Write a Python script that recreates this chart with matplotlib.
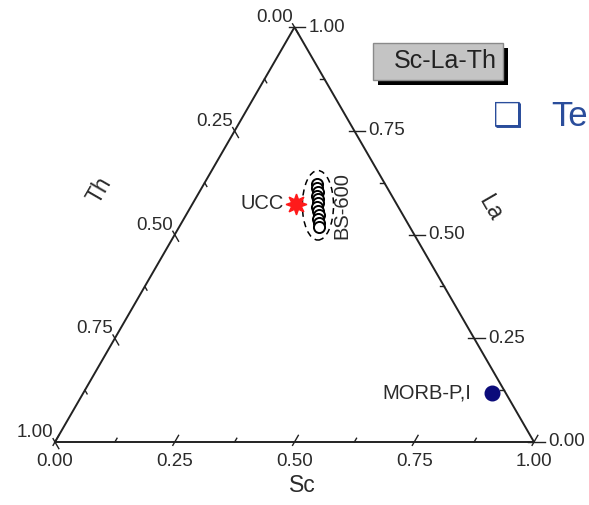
import numpy as np
from matplotlib import pyplot as plt
from matplotlib.patches import Ellipse, Rectangle

plt.rcParams['font.family'] = ['Liberation Sans', 'DejaVu Sans']

# ternary data: fractions of Sc and La (Th = 1 - Sc - La)
bs600_sc = [0.236, 0.241, 0.248, 0.250, 0.256, 0.261, 0.264, 0.271, 0.278, 0.280, 0.287, 0.292]
bs600_la = [0.622, 0.612, 0.603, 0.593, 0.586, 0.576, 0.567, 0.557, 0.547, 0.538, 0.528, 0.518]
ucc_sc, ucc_la = 0.216, 0.574
morb_sc, morb_la = 0.853, 0.118

tick_vals = np.arange(0, 1.0001, 0.125)
tick_labels = ['0.00', '0.25', '0.50', '0.75', '1.00']

H = np.sqrt(3) / 2


def tern(sc, la):
    sc = np.asarray(sc, dtype=float)
    la = np.asarray(la, dtype=float)
    return sc + la / 2, la * H


fig = plt.figure(figsize=(5.89, 5.05), dpi=100)
ax = fig.add_axes([0, 0, 1, 1])
ax.set_xlim(-55 / 479, (589 - 55) / 479)
ax.set_ylim(-(505 - 442) / 479, 442 / 479)
ax.axis('off')

lc = '#222222'
tc = '#2b2b2b'
fs_tick = 13.5
# triangle frame
ax.plot([0, 1, 0.5, 0], [0, 0, H, 0], color=lc, lw=1.4, solid_joinstyle='miter')

# ticks: bottom (Sc), left (Th), right (La)
d_bot = np.array([0.5, H])
d_left = np.array([0.5, -H])
d_right = np.array([-1.0, 0.0])
for i, v in enumerate(tick_vals):
    major = i % 2 == 0
    a, b = (-0.008, 0.016) if major else (0.0, 0.009)
    # bottom
    p = np.array([v, 0.0])
    ax.plot(*zip(p + a * d_bot, p + b * d_bot), color=lc, lw=1.0)
    # left (Th = v)
    p = np.array(tern(0, 1 - v))
    ax.plot(*zip(p + a * d_left, p + b * d_left), color=lc, lw=1.0)
    # right (La = v)
    p = np.array(tern(1 - v, v))
    ar, br = (-0.022, 0.012) if major else (0.0, 0.009)
    ax.plot(*zip(p + ar * d_right, p + br * d_right), color=lc, lw=1.0)
    if major:
        lab = tick_labels[i // 2]
        ax.text(v, -0.022, lab, ha='center', va='top', fontsize=fs_tick, color=tc)
        px, py = tern(0, 1 - v)
        ax.text(px - 0.004, py + 0.002, lab, ha='right', va='bottom', fontsize=fs_tick, color=tc)
        px, py = tern(1 - v, v)
        ax.text(px + 0.03, py, lab, ha='left', va='center', fontsize=fs_tick, color=tc)

# axis titles
ax.text(0.516, -0.09, 'Sc', ha='center', va='center', fontsize=16.5, color=tc)
ax.text(0.094, 0.526, 'Th', ha='center', va='center', fontsize=16.5, color=tc, rotation=60)
ax.text(0.908, 0.489, 'La', ha='center', va='center', fontsize=16.5, color=tc, rotation=-60)

# BS-600 cluster
bx, by = tern(bs600_sc, bs600_la)
ax.plot(bx, by, 'o', ms=8, mfc='white', mec='black', mew=1.4, ls='none', zorder=3)
cx, cy = bx.mean(), by.mean()
ell = Ellipse((cx, cy), (bx.max() - bx.min()) + 0.06, (by.max() - by.min()) + 0.055,
              fill=False, ls=(0, (4, 3)), ec='black', lw=1.1, zorder=2)
ax.add_patch(ell)
ax.text(cx + 0.05, cy, 'BS-600', rotation=90, ha='center', va='center', fontsize=14.5, color=tc)

# UCC
ux, uy = tern(ucc_sc, ucc_la)
ax.plot(ux, uy, marker=(8, 1, 0), ms=15, color='#ff1a1a', mec='#ff1a1a', ls='none', zorder=4)
ax.text(ux - 0.026, uy, 'UCC', ha='right', va='center', fontsize=14.5, color=tc)

# MORB
mx, my = tern(morb_sc, morb_la)
ax.plot(mx, my, 'o', ms=10.5, color='#0b0b7a', ls='none', zorder=4)
ax.text(mx - 0.042, my, 'MORB-P,I', ha='right', va='center', fontsize=14.5, color=tc)

# title box with shadow
fig.add_artist(Rectangle((378 / 589, 1 - 85 / 505), 130 / 589, 37 / 505,
                         transform=fig.transFigure, fc='black', ec='none'))
fig.add_artist(Rectangle((373 / 589, 1 - 80 / 505), 130 / 589, 37 / 505,
                         transform=fig.transFigure, fc='#c4c4c4', ec='#8a8a8a', lw=1))
fig.text(445 / 589, 1 - 61 / 505, 'Sc-La-Th', ha='center', va='center', fontsize=18, color='#222222')

# slide bullet fragment
blue = '#2a4d9b'
fig.text(508 / 589, 1 - 117 / 505, '\u2751', ha='center', va='center', fontsize=24, color=blue,
         family=['DejaVu Sans'])
fig.text(551 / 589, 1 - 117 / 505, 'Te', ha='left', va='center', fontsize=25, color=blue)

fig.savefig('out.png', dpi=100)
